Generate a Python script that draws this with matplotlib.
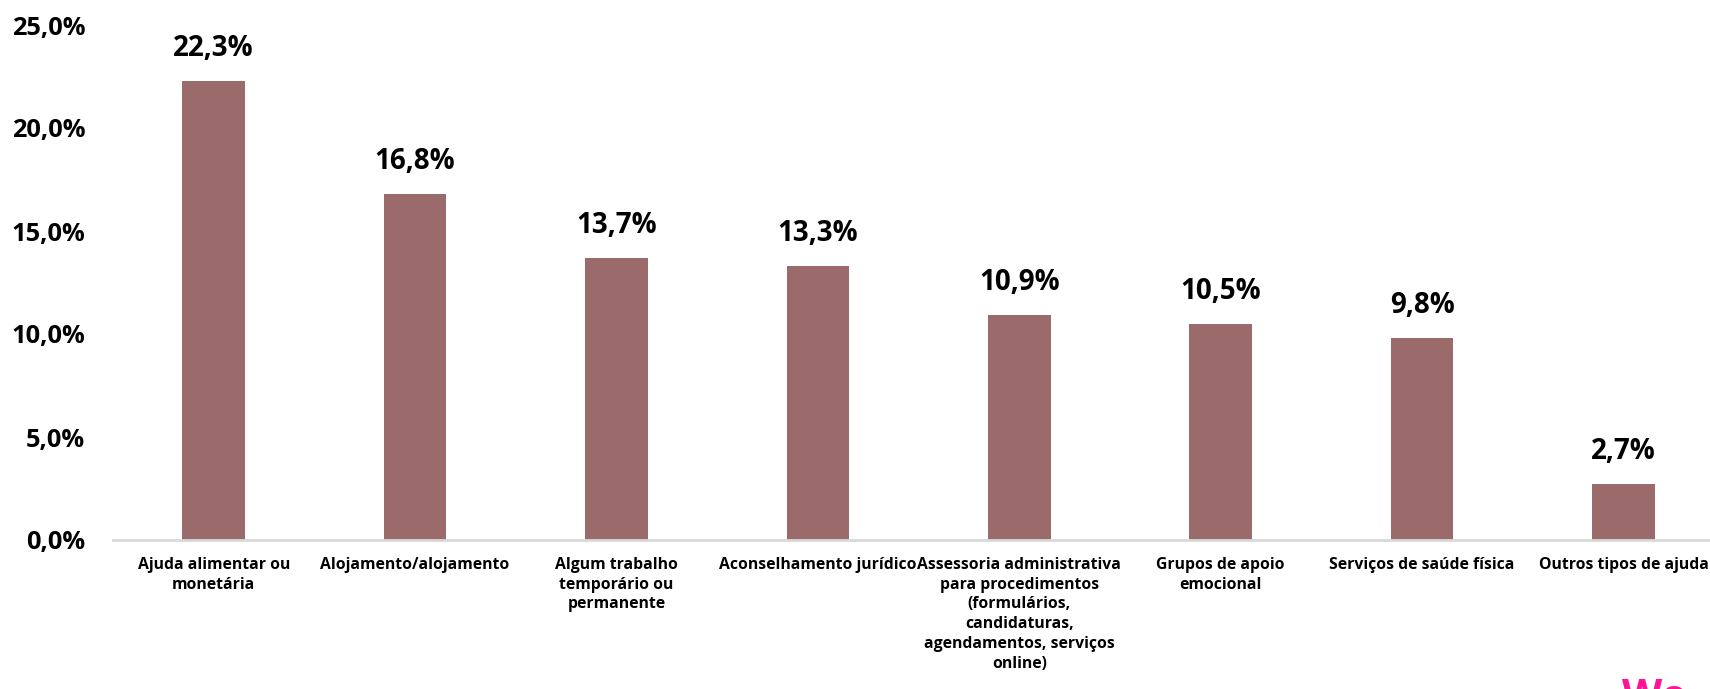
import matplotlib.pyplot as plt
from matplotlib.ticker import FuncFormatter

# Categories and values (percent)
categories = ['Ajuda alimentar ou\nmonetária', 'Alojamento/alojamento',
              'Algum trabalho\ntemporário ou\npermanente', 'Aconselhamento jurídico',
              'Assessoria administrativa\npara procedimentos\n(formulários,\ncandidaturas,\nagendamentos, serviços\nonline)',
              'Grupos de apoio\nemocional', 'Serviços de saúde física', 'Outros tipos de ajuda']
values = [22.3, 16.8, 13.7, 13.3, 10.9, 10.5, 9.8, 2.7]
y_ticks = [0, 5, 10, 15, 20, 25]

plt.rcParams['font.family'] = ['Open Sans', 'DejaVu Sans']
plt.rcParams['font.weight'] = 'bold'

bar_color = '#9b6b6b'

fig = plt.figure(figsize=(17.1, 6.89), dpi=100)
# axis extends a bit past the right edge like the original
ax = fig.add_axes([113 / 1710, 1 - 540 / 689, (8 * 201.4) / 1710, (540 - 25) / 689])

x = list(range(len(categories)))
ax.bar(x, values, width=0.31, color=bar_color)

# Value labels
for xi, v in zip(x, values):
    ax.annotate(f'{v:.1f}%'.replace('.', ','), (xi, v), xytext=(0, 13),
                textcoords='offset points', ha='center', va='bottom',
                fontsize=20, fontweight='bold')

ax.set_xlim(-0.5, len(categories) - 0.5)
ax.set_ylim(0, 25)
ax.set_yticks(y_ticks)
ax.yaxis.set_major_formatter(FuncFormatter(lambda v, p: f'{v:.1f}%'.replace('.', ',')))
ax.set_xticks(x)
ax.set_xticklabels(categories, fontsize=11.3, fontweight='bold', linespacing=1.32)

for s in ['top', 'right', 'left']:
    ax.spines[s].set_visible(False)
ax.spines['bottom'].set_color('#d9d9d9')
ax.spines['bottom'].set_linewidth(2)
ax.tick_params(axis='y', length=0, pad=20, labelsize=18.3)
ax.tick_params(axis='x', length=0, pad=12)

# Cropped logo at bottom right
fig.text(1622 / 1710, 1 - 678 / 689, 'Wo', color='#ff1493', fontsize=30,
         fontweight='bold', ha='left', va='top')

fig.savefig('out.png', dpi=100)
